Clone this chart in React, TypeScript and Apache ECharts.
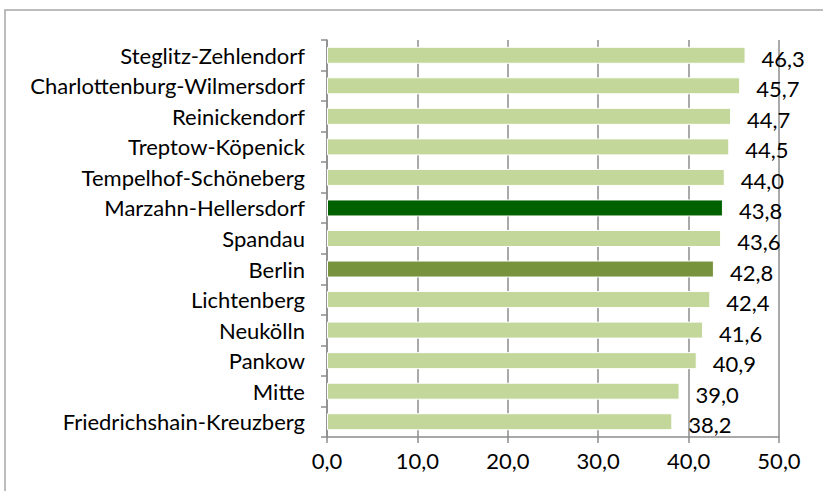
import React, { useEffect, useRef } from "react";
import * as echarts from "echarts";

const categories = [
  "Friedrichshain-Kreuzberg",
  "Mitte",
  "Pankow",
  "Neukölln",
  "Lichtenberg",
  "Berlin",
  "Spandau",
  "Marzahn-Hellersdorf",
  "Tempelhof-Schöneberg",
  "Treptow-Köpenick",
  "Reinickendorf",
  "Charlottenburg-Wilmersdorf",
  "Steglitz-Zehlendorf",
];
const values = [38.2, 39.0, 40.9, 41.6, 42.4, 42.8, 43.6, 43.8, 44.0, 44.5, 44.7, 45.7, 46.3];
const colorLight = "#c4d79b";
const colorDark = "#006100";
const colorBerlin = "#77933c";

const fmt = (v: number) => v.toFixed(1).replace(".", ",");

export default function App() {
  const ref = useRef<HTMLDivElement>(null);
  useEffect(() => {
    const chart = echarts.init(ref.current!, null, { renderer: "svg" });
    chart.setOption({
      animation: false,
      backgroundColor: "#fff",
      textStyle: { fontFamily: "Lato" },
      graphic: [
        {
          type: "rect",
          shape: { x: 5, y: 10, width: 830, height: 500 },
          style: { fill: "none", stroke: "#a6a6a6", lineWidth: 1.5 },
        },
      ],
      grid: { left: 327, right: 44, top: 40, bottom: 54 },
      xAxis: {
        type: "value",
        min: 0,
        max: 50,
        interval: 10,
        axisLine: { show: true, lineStyle: { color: "#8c8c8c", width: 1.5 } },
        axisTick: { show: true, length: 6, lineStyle: { color: "#8c8c8c", width: 1.5 } },
        splitLine: { show: true, lineStyle: { color: "#8c8c8c", width: 1.5, type: "solid" } },
        axisLabel: {
          formatter: (v: number) => fmt(v),
          color: "#000",
          fontSize: 22,
          fontFamily: "Lato",
          margin: 12,
        },
      },
      yAxis: {
        type: "category",
        data: categories,
        axisLine: { show: true, lineStyle: { color: "#8c8c8c", width: 1.5 } },
        axisTick: { show: true, length: 6, lineStyle: { color: "#8c8c8c", width: 1.5 } },
        axisLabel: { color: "#000", fontSize: 22, fontFamily: "Lato", margin: 22 },
      },
      series: [
        {
          type: "bar",
          barWidth: 17,
          data: values.map((v, i) => ({
            value: v,
            itemStyle: {
              color:
                categories[i] === "Marzahn-Hellersdorf"
                  ? colorDark
                  : categories[i] === "Berlin"
                  ? colorBerlin
                  : colorLight,
              borderColor: "#ffffff",
              borderWidth: 1,
            },
          })),
          label: {
            show: true,
            position: "right",
            distance: 16,
            offset: [0, 3],
            formatter: (p: any) => fmt(p.value),
            color: "#000",
            fontSize: 22,
            fontFamily: "Lato",
          },
        },
      ],
    });
    return () => chart.dispose();
  }, []);
  return <div ref={ref} style={{ width: 823, height: 491, position: "absolute", left: 0, top: 0 }} />;
}
